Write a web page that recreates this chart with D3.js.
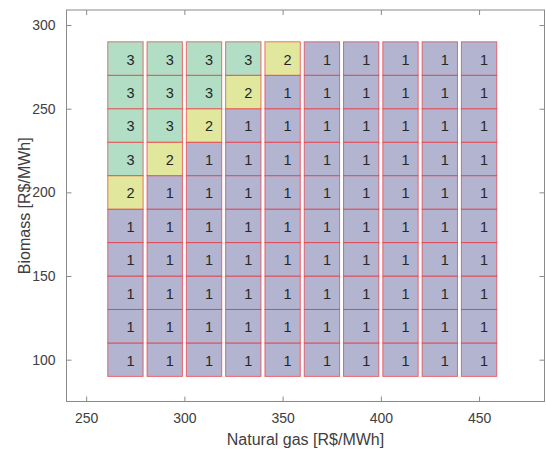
<!DOCTYPE html>
<html>
<head>
<meta charset="utf-8">
<script src="https://cdn.jsdelivr.net/npm/d3@7"></script>
<style>
  body { margin: 0; background: #fff; }
  svg { display: block; font-family: "Liberation Sans", Arial, sans-serif; }
</style>
</head>
<body>
<svg id="chart" width="546" height="450"></svg>
<script>
// Natural gas prices (columns) and biomass prices (rows)
const gasPrices = [270, 290, 310, 330, 350, 370, 390, 410, 430, 450];
const biomassPrices = [100, 120, 140, 160, 180, 200, 220, 240, 260, 280];
// values per biomass row (bottom to top), one entry per gas column
const row100 = [1, 1, 1, 1, 1, 1, 1, 1, 1, 1];
const row120 = [1, 1, 1, 1, 1, 1, 1, 1, 1, 1];
const row140 = [1, 1, 1, 1, 1, 1, 1, 1, 1, 1];
const row160 = [1, 1, 1, 1, 1, 1, 1, 1, 1, 1];
const row180 = [1, 1, 1, 1, 1, 1, 1, 1, 1, 1];
const row200 = [2, 1, 1, 1, 1, 1, 1, 1, 1, 1];
const row220 = [3, 2, 1, 1, 1, 1, 1, 1, 1, 1];
const row240 = [3, 3, 2, 1, 1, 1, 1, 1, 1, 1];
const row260 = [3, 3, 3, 2, 1, 1, 1, 1, 1, 1];
const row280 = [3, 3, 3, 3, 2, 1, 1, 1, 1, 1];
const gridRows = [row100, row120, row140, row160, row180, row200, row220, row240, row260, row280];
const xTicks = [250, 300, 350, 400, 450];
const yTicks = [100, 150, 200, 250, 300];
const xLabel = "Natural gas [R$/MWh]";
const yLabel = "Biomass [R$/MWh]";

const cellColors = {1: "#b3b4cf", 2: "#e1e79d", 3: "#b2dec6"};

const svg = d3.select("#chart");
const L = 66.5, R = 544.5, T = 10, B = 401.5;

const x = d3.scaleLinear().domain([240, 483.3]).range([L, R]);
const y = d3.scaleLinear().domain([75, 309]).range([B, T]);

const cells = [];
gridRows.forEach((row, i) => {
  row.forEach((v, j) => {
    cells.push({gas: gasPrices[j], bio: biomassPrices[i], v});
  });
});

const g = svg.append("g");
g.selectAll("rect.cell").data(cells).join("rect")
  .attr("class", "cell")
  .attr("x", d => x(d.gas - 9))
  .attr("y", d => y(d.bio + 10))
  .attr("width", d => x(d.gas + 9) - x(d.gas - 9))
  .attr("height", d => y(d.bio - 10) - y(d.bio + 10))
  .attr("fill", d => cellColors[d.v])
  .attr("stroke", "rgba(240,30,40,0.62)")
  .attr("stroke-width", 1);

g.selectAll("text.val").data(cells).join("text")
  .attr("class", "val")
  .attr("x", d => x(d.gas) + 1)
  .attr("y", d => y(d.bio) + 6)
  .attr("font-size", 14.5)
  .attr("fill", "#262626")
  .text(d => d.v);

// Axes
const axisColor = "#8a8a8a";
const tickLen = 5;

const xAxisB = d3.axisBottom(x).tickValues(xTicks).tickSizeInner(-tickLen).tickSizeOuter(0).tickPadding(12);
const xAxisT = d3.axisTop(x).tickValues(xTicks).tickSizeInner(-tickLen).tickSizeOuter(0).tickFormat("");
const yAxisL = d3.axisLeft(y).tickValues(yTicks).tickSizeInner(-tickLen).tickSizeOuter(0).tickPadding(11);
const yAxisR = d3.axisRight(y).tickValues(yTicks).tickSizeInner(-tickLen).tickSizeOuter(0).tickFormat("");

function style(sel) {
  sel.select(".domain").remove();
  sel.selectAll(".tick line").attr("stroke", axisColor);
  sel.selectAll(".tick text").attr("fill", "#404040").attr("font-size", 14)
    .attr("font-family", "Liberation Sans, Arial, sans-serif");
}

svg.append("g").attr("transform", `translate(0,${B})`).call(xAxisB).call(style);
svg.append("g").attr("transform", `translate(0,${T})`).call(xAxisT).call(style);
svg.append("g").attr("transform", `translate(${L},0)`).call(yAxisL).call(style);
svg.append("g").attr("transform", `translate(${R},0)`).call(yAxisR).call(style);

svg.append("rect")
  .attr("x", L).attr("y", T).attr("width", R - L).attr("height", B - T)
  .attr("fill", "none").attr("stroke", axisColor).attr("stroke-width", 1);

svg.append("text")
  .attr("x", (L + R) / 2).attr("y", 445)
  .attr("text-anchor", "middle").attr("font-size", 16).attr("fill", "#404040")
  .text(xLabel);

svg.append("text")
  .attr("transform", `translate(30,${(T + B) / 2}) rotate(-90)`)
  .attr("text-anchor", "middle").attr("font-size", 16).attr("fill", "#404040")
  .text(yLabel);
</script>
</body>
</html>
